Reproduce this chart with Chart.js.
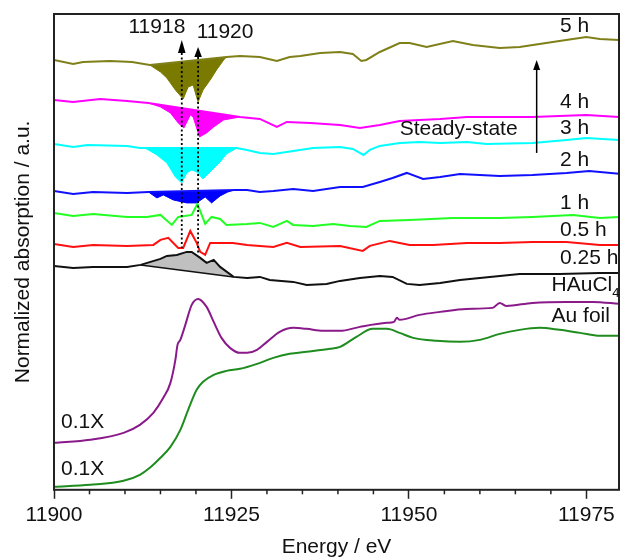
<!DOCTYPE html>
<html>
<head>
<meta charset="utf-8">
<script src="https://cdn.jsdelivr.net/npm/chart.js@4.4.0/dist/chart.umd.min.js"></script>
<style>
  html, body { margin:0; padding:0; background:#fff; }
</style>
</head>
<body>
<canvas id="xanes" width="621" height="558"></canvas>
<script>
/* Au L3-edge XANES, espectros in situ (desplazados) + referencias */
const FONT = "'Liberation Sans', Arial, sans-serif";

// 5 h (oliva)
const e5h = [11900.0,11902.7,11904.1,11907.9,11911.0,11913.5,11924.3,11926.2,11929.0,11931.4,11933.2,11934.7,11937.5,11940.3,11942.1,11943.3,11944.0,11945.9,11948.7,11950.1,11952.5,11956.2,11959.0,11962.8,11965.6,11968.4,11971.2,11975.0,11976.9,11979.7];
const a5h = [4.30,4.26,4.28,4.29,4.28,4.25,4.33,4.34,4.33,4.29,4.33,4.34,4.37,4.38,4.36,4.29,4.30,4.38,4.47,4.47,4.43,4.49,4.45,4.42,4.43,4.46,4.49,4.53,4.51,4.50];
const dipE5h = [11913.5,11915.0,11915.9,11917.1,11918.2,11918.9,11919.6,11920.3,11921.0,11922.0,11922.9,11923.9,11924.3];
const dipA5h = [4.25,4.18,4.12,4.00,3.91,4.03,4.05,3.88,4.00,4.10,4.20,4.30,4.33];

// 4 h (magenta)
const e4h = [11900.0,11902.7,11906.5,11910.3,11913.3,11926.2,11929.0,11931.4,11932.8,11936.1,11940.3,11943.1,11945.9,11948.7,11951.5,11954.4,11958.2,11962.8,11967.4,11971.2,11975.0,11979.7];
const a4h = [3.90,3.88,3.91,3.89,3.87,3.73,3.71,3.63,3.68,3.67,3.65,3.62,3.65,3.69,3.70,3.71,3.73,3.73,3.73,3.74,3.75,3.73];
const dipE4h = [11913.3,11915.0,11916.4,11917.5,11918.3,11919.2,11919.6,11920.5,11921.5,11922.5,11923.9,11926.2];
const dipA4h = [3.87,3.83,3.77,3.67,3.62,3.75,3.73,3.53,3.57,3.63,3.70,3.73];

// 3 h (cian)
const e3h = [11900.0,11902.7,11904.7,11910.3,11912.1,11912.8,11925.7,11927.2,11929.0,11930.9,11933.7,11936.5,11940.3,11942.1,11943.6,11944.5,11945.9,11948.7,11951.5,11954.4,11958.2,11960.9,11967.4,11972.2,11975.0,11979.7];
const a3h = [3.46,3.43,3.45,3.44,3.42,3.42,3.42,3.40,3.37,3.36,3.39,3.42,3.43,3.41,3.35,3.40,3.44,3.47,3.48,3.47,3.48,3.46,3.47,3.50,3.52,3.50];
const dipE3h = [11912.8,11914.5,11915.9,11917.1,11918.0,11918.7,11919.4,11920.1,11921.0,11922.0,11923.4,11924.3,11925.3,11925.7];
const dipA3h = [3.42,3.35,3.27,3.13,3.07,3.17,3.20,3.18,3.11,3.18,3.28,3.36,3.40,3.42];

// 2 h (azul)
const e2h = [11900.0,11902.7,11905.5,11910.3,11913.3,11925.5,11927.2,11929.0,11930.9,11933.7,11936.5,11940.3,11943.5,11945.9,11947.7,11949.7,11952.0,11954.4,11957.2,11962.8,11967.4,11972.2,11975.4,11979.7];
const a2h = [2.99,2.96,2.98,2.97,2.98,3.00,3.00,2.98,2.99,3.01,2.99,3.03,3.03,3.08,3.12,3.17,3.11,3.13,3.16,3.14,3.15,3.17,3.19,3.16];
const dipE2h = [11913.3,11914.5,11915.4,11916.8,11918.7,11920.1,11921.3,11922.2,11923.4,11924.5,11925.5];
const dipA2h = [2.98,2.92,2.95,2.90,2.87,2.87,2.93,2.87,2.94,2.98,3.00];

// 1 h (verde)
const e1h = [11900.0,11902.7,11905.5,11910.3,11913.1,11915.0,11916.6,11917.5,11919.4,11920.2,11921.3,11922.2,11923.4,11924.3,11927.2,11929.0,11930.9,11932.8,11933.7,11936.5,11939.3,11941.7,11944.0,11945.9,11950.1,11956.2,11962.8,11967.4,11973.1,11976.9,11979.7];
const a1h = [2.77,2.74,2.76,2.73,2.73,2.75,2.65,2.73,2.75,2.86,2.66,2.73,2.71,2.65,2.66,2.67,2.63,2.69,2.65,2.64,2.66,2.64,2.63,2.69,2.70,2.72,2.72,2.73,2.75,2.72,2.73];

// 0.5 h (rojo)
const e05h = [11900.0,11902.7,11905.5,11910.3,11914.0,11915.0,11916.1,11917.5,11918.2,11919.2,11920.1,11920.6,11921.3,11922.0,11923.4,11925.2,11927.2,11929.0,11930.9,11932.8,11934.7,11940.3,11943.5,11944.5,11947.3,11950.1,11953.4,11958.2,11962.8,11967.4,11972.2,11976.9,11979.7];
const a05h = [2.46,2.43,2.45,2.44,2.45,2.50,2.52,2.42,2.42,2.59,2.47,2.38,2.35,2.47,2.47,2.47,2.45,2.44,2.43,2.47,2.43,2.44,2.39,2.44,2.49,2.45,2.45,2.47,2.47,2.48,2.48,2.45,2.45];

// 0.25 h (negro) y línea base del área gris
const e025h = [11900.0,11902.7,11905.5,11910.3,11912.2,11915.0,11915.9,11917.3,11918.7,11919.4,11920.6,11921.5,11922.5,11923.4,11925.3,11927.2,11929.0,11930.4,11933.7,11935.6,11938.4,11940.3,11943.1,11945.9,11947.7,11949.7,11951.5,11954.4,11957.2,11960.0,11962.8,11965.6,11971.2,11976.9,11979.7];
const a025h = [2.24,2.22,2.23,2.23,2.25,2.31,2.34,2.35,2.38,2.38,2.32,2.27,2.30,2.23,2.13,2.12,2.13,2.10,2.08,2.05,2.06,2.09,2.12,2.14,2.13,2.06,2.05,2.07,2.10,2.12,2.14,2.16,2.16,2.17,2.17];
const baseE025h = [11912.2,11925.3];
const baseA025h = [2.25,2.13];

// HAuCl4 (0.1X)
const eHAu = [11900.0,11905.1,11909.8,11912.1,11914.0,11915.4,11916.4,11917.1,11917.4,11917.8,11918.5,11919.4,11920.3,11921.5,11922.5,11923.6,11924.8,11926.2,11927.2,11928.6,11930.0,11931.8,11933.7,11935.6,11937.9,11940.3,11943.1,11946.9,11947.9,11948.3,11948.7,11951.5,11954.4,11958.1,11961.8,11962.8,11963.7,11967.4,11972.2,11975.9,11979.7];
const aHAu = [0.47,0.50,0.57,0.65,0.77,0.92,1.07,1.30,1.45,1.50,1.65,1.85,1.91,1.83,1.68,1.52,1.42,1.37,1.37,1.40,1.48,1.58,1.62,1.61,1.59,1.59,1.63,1.67,1.68,1.72,1.70,1.75,1.78,1.81,1.82,1.87,1.84,1.87,1.88,1.88,1.86];

// Au foil (0.1X)
const eFoil = [11900.0,11905.1,11909.8,11912.1,11913.5,11915.0,11916.4,11917.8,11918.9,11920.1,11921.0,11922.5,11924.3,11926.2,11928.6,11930.9,11933.2,11935.6,11938.9,11940.3,11942.6,11944.9,11946.9,11948.7,11950.6,11953.9,11957.2,11960.0,11962.8,11965.6,11968.4,11971.2,11974.1,11976.9,11979.7];
const aFoil = [0.03,0.05,0.09,0.15,0.22,0.32,0.43,0.60,0.80,1.00,1.08,1.15,1.19,1.21,1.26,1.32,1.36,1.38,1.41,1.43,1.53,1.61,1.61,1.57,1.52,1.49,1.48,1.50,1.56,1.60,1.62,1.60,1.57,1.54,1.54];

const xTicks = [11900, 11925, 11950, 11975];
const peakEnergies = [11918, 11920.3];
const peakLabels = ["11918", "11920"];
const curveLabels = ["5 h","4 h","3 h","2 h","1 h","0.5 h","0.25 h"];

const pts = (xs, ys) => xs.map((x, i) => ({x, y: ys[i]}));

const lineDs = (xs, ys, color, smooth) => ({
  data: pts(xs, ys), borderColor: color, borderWidth: 2, pointRadius: 0,
  fill: false, cubicInterpolationMode: smooth ? "monotone" : "default", tension: 0
});
const fillDs = (xs, ys, color, target, border) => ({
  data: pts(xs, ys), borderColor: border || color, borderWidth: border ? 1.5 : 1,
  backgroundColor: color, pointRadius: 0, fill: target, tension: 0
});

const datasets = [
  lineDs(e5h, a5h, "#80801a"),         // 0
  lineDs(e4h, a4h, "#ff00ff"),         // 1
  lineDs(e3h, a3h, "#00ffff"),         // 2
  lineDs(e2h, a2h, "#1010ff"),         // 3
  lineDs(e1h, a1h, "#22ff22"),         // 4
  lineDs(e05h, a05h, "#ff1010"),       // 5
  lineDs(e025h, a025h, "#111111"),     // 6
  lineDs(eHAu, aHAu, "#8a1a8a", true), // 7
  lineDs(eFoil, aFoil, "#1e8c1e", true), // 8
  fillDs(dipE5h, dipA5h, "#7a7a00", 0),
  fillDs(dipE4h, dipA4h, "#ff00ff", 1),
  fillDs(dipE3h, dipA3h, "#00ffff", 2),
  fillDs(dipE2h, dipA2h, "#0000ff", 3),
  fillDs(baseE025h, baseA025h, "#c0c0c0", 6, "#111111")
];

const overlay = {
  id: "overlay",
  afterDatasetsDraw(chart) {
    const {ctx, chartArea: a, scales: {x, y}} = chart;
    ctx.save();
    // marco
    ctx.strokeStyle = "#222";
    ctx.lineWidth = 2;
    ctx.strokeRect(a.left, a.top, a.right - a.left, a.bottom - a.top);
    // ticks menores cada 5 eV
    ctx.lineWidth = 1.5;
    for (let v = 11905; v < 11980; v += 5) {
      if (v % 25 === 0) continue;
      const px = x.getPixelForValue(v);
      ctx.beginPath(); ctx.moveTo(px, a.bottom); ctx.lineTo(px, a.bottom + 4.5); ctx.stroke();
    }
    // líneas punteadas + flechas de 11918 / 11920
    const tips = [4.50, 4.43], bases = [4.37, 4.33], ends = [2.42, 2.37];
    ctx.fillStyle = "#000"; ctx.strokeStyle = "#000";
    peakEnergies.forEach((e, i) => {
      const px = x.getPixelForValue(e);
      ctx.setLineDash([2, 2.5]); ctx.lineWidth = 1.8;
      ctx.beginPath(); ctx.moveTo(px, y.getPixelForValue(bases[i])); ctx.lineTo(px, y.getPixelForValue(ends[i])); ctx.stroke();
      ctx.setLineDash([]);
      const t = y.getPixelForValue(tips[i]), b = y.getPixelForValue(bases[i]);
      ctx.beginPath(); ctx.moveTo(px, t); ctx.lineTo(px - 3.8, b); ctx.lineTo(px + 3.8, b); ctx.closePath(); ctx.fill();
    });
    // flecha vertical "steady-state"
    const ax = x.getPixelForValue(11968.0);
    const ay0 = y.getPixelForValue(3.37), ay1 = y.getPixelForValue(4.30);
    ctx.lineWidth = 1.5;
    ctx.beginPath(); ctx.moveTo(ax, ay0); ctx.lineTo(ax, ay1 + 8); ctx.stroke();
    ctx.beginPath(); ctx.moveTo(ax, ay1); ctx.lineTo(ax - 3.5, ay1 + 10); ctx.lineTo(ax + 3.5, ay1 + 10); ctx.closePath(); ctx.fill();

    // textos
    ctx.fillStyle = "#111";
    ctx.font = "21px " + FONT;
    ctx.textBaseline = "middle";
    ctx.textAlign = "center";
    ctx.fillText(peakLabels[0], x.getPixelForValue(11914.5), y.getPixelForValue(4.63));
    ctx.fillText(peakLabels[1], x.getPixelForValue(11924.1), y.getPixelForValue(4.58));
    ctx.textAlign = "left";
    const labY = [4.64, 3.88, 3.62, 3.30, 2.87, 2.60, 2.32];
    curveLabels.forEach((s, i) => ctx.fillText(s, x.getPixelForValue(11971.3), y.getPixelForValue(labY[i])));
    ctx.fillText("Steady-state", x.getPixelForValue(11948.7), y.getPixelForValue(3.61));
    const hx = x.getPixelForValue(11970.1), hy = y.getPixelForValue(2.05);
    ctx.fillText("HAuCl", hx, hy);
    const w = ctx.measureText("HAuCl").width;
    ctx.font = "13px " + FONT;
    ctx.fillText("4", hx + w, hy + 9);
    ctx.font = "21px " + FONT;
    ctx.fillText("Au foil", x.getPixelForValue(11970.1), y.getPixelForValue(1.74));
    ctx.fillText("0.1X", x.getPixelForValue(11901.0), y.getPixelForValue(0.68));
    ctx.fillText("0.1X", x.getPixelForValue(11901.0), y.getPixelForValue(0.21));
    ctx.restore();
  }
};

new Chart(document.getElementById("xanes").getContext("2d"), {
  type: "line",
  data: {datasets},
  options: {
    responsive: false,
    animation: false,
    devicePixelRatio: 1,
    layout: {padding: {top: 14, right: 2, bottom: 0, left: 0}},
    plugins: {legend: {display: false}, tooltip: {enabled: false}},
    scales: {
      x: {
        type: "linear", min: 11900, max: 11979.6,
        border: {display: false},
        grid: {display: true, drawOnChartArea: false, drawTicks: true, tickLength: 9, tickWidth: 1.5, tickColor: "#222"},
        afterBuildTicks: (s) => { s.ticks = xTicks.map(v => ({value: v})); },
        ticks: {
          autoSkip: false, maxRotation: 0, minRotation: 0, padding: 3.5,
          color: "#111", font: {family: FONT, size: 21},
          callback: (v) => String(v)
        },
        title: {display: true, text: "Energy / eV", color: "#111",
          font: {family: FONT, size: 21, lineHeight: 1}, padding: {top: 6, bottom: 0}}
      },
      y: {
        min: 0, max: 4.76,
        border: {display: false},
        grid: {display: false, drawTicks: false},
        ticks: {display: false},
        title: {display: true, text: "Normalized absorption / a.u.", color: "#111",
          font: {family: FONT, size: 21, lineHeight: 1}, padding: {top: 12.5, bottom: 20.5}}
      }
    }
  },
  plugins: [overlay]
});
</script>
</body>
</html>
